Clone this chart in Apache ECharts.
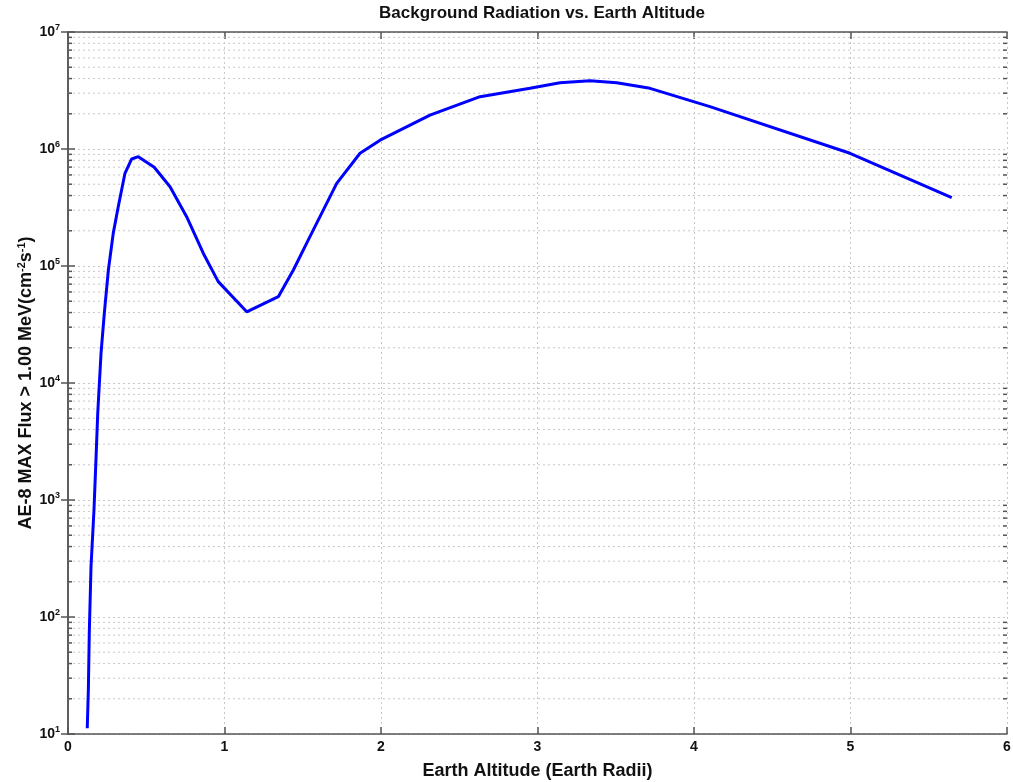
<!DOCTYPE html>
<html>
<head>
<meta charset="utf-8">
<script src="https://cdn.jsdelivr.net/npm/echarts@6/dist/echarts.min.js"></script>
<style>html,body{margin:0;padding:0;background:#fff;}#c{width:1013px;height:782px;}</style>
</head>
<body>
<div id="c"></div>
<script>
// Data
const altitude = [0.123,0.130,0.136,0.147,0.166,0.177,0.190,0.211,0.232,0.258,0.289,0.321,0.364,0.407,0.449,0.551,0.652,0.758,0.865,0.960,1.142,1.344,1.440,1.546,1.717,1.866,1.994,2.313,2.633,2.952,3.144,3.335,3.506,3.719,4.102,4.997,5.647];
const flux = [11.2,23.8,72.6,269,822,1930,5510,17900,39400,92500,190000,321000,620000,822000,860000,698000,476000,264000,128000,73500,40600,54700,92500,178000,509000,919000,1190000,1950000,2800000,3300000,3690000,3840000,3690000,3300000,2300000,919000,384000];
const xTicks = [0,1,2,3,4,5,6];
const yDecades = [1,2,3,4,5,6,7];

const minorVals = [];
for (let d = 1; d < 7; d++) for (let k = 2; k <= 9; k++) minorVals.push(k * Math.pow(10, d));

const lineData = altitude.map((x, i) => [x, flux[i]]);
const FONT = '"Liberation Sans", Arial, sans-serif';

const chart = echarts.init(document.getElementById('c'), null, {renderer: 'canvas'});
const yAxisBase = {
  type: 'log', logBase: 10,
  min: Math.pow(10, yDecades[0]), max: Math.pow(10, yDecades[yDecades.length - 1]),
  axisLine: {show: true, lineStyle: {color: '#555', width: 1.5}},
  axisTick: {show: true, inside: true, length: 7, lineStyle: {color: '#555', width: 1.5}},
  minorTick: {show: false},
  splitLine: {show: false}
};
chart.setOption({
  animation: false,
  backgroundColor: '#fff',
  title: {
    text: 'Background Radiation vs. Earth Altitude',
    left: 537, top: 0, textAlign: 'center',
    textStyle: {fontFamily: FONT, fontWeight: 'bold', fontSize: 17, color: '#111'}
  },
  grid: {left: 68, top: 32, right: 6, bottom: 48, outerBoundsMode: 'none', containLabel: false},
  xAxis: [{
    type: 'value', min: xTicks[0], max: xTicks[xTicks.length - 1], interval: 1,
    name: 'Earth Altitude (Earth Radii)', nameLocation: 'middle', nameGap: 28, nameMoveOverlap: false,
    nameTextStyle: {fontFamily: FONT, fontWeight: 'bold', fontSize: 18, color: '#111'},
    axisLine: {show: true, lineStyle: {color: '#555', width: 1.5}},
    axisTick: {show: true, inside: true, length: 7, lineStyle: {color: '#555', width: 1.5}},
    axisLabel: {fontFamily: FONT, fontWeight: 'bold', fontSize: 14, color: '#111', margin: 6},
    splitLine: {show: true, lineStyle: {color: '#c8c8c8', type: [2, 3], width: 1}}
  }, {
    type: 'value', position: 'top', min: xTicks[0], max: xTicks[xTicks.length - 1], interval: 1,
    axisLine: {show: true, lineStyle: {color: '#555', width: 1.5}},
    axisTick: {show: true, inside: true, length: 7, lineStyle: {color: '#555', width: 1.5}},
    axisLabel: {show: false}, splitLine: {show: false}
  }],
  yAxis: [Object.assign({}, yAxisBase, {
    name: '{t|AE-8 MAX Flux > 1.00 MeV(cm}{s|-2}{t|s}{s|-1}{t|)}',
    nameLocation: 'middle', nameGap: 31, nameRotate: 90, nameMoveOverlap: false,
    nameTextStyle: {
      rich: {
        t: {fontFamily: FONT, fontWeight: 'bold', fontSize: 18, color: '#111'},
        s: {fontFamily: FONT, fontWeight: 'bold', fontSize: 11, color: '#111', verticalAlign: 'bottom', padding: [0, 0, 10, 0]}
      }
    },
    axisLabel: {
      margin: 8,
      formatter: v => '{b|10}{e|' + Math.round(Math.log10(v)) + '}',
      rich: {
        b: {fontFamily: FONT, fontWeight: 'bold', fontSize: 14, color: '#111'},
        e: {fontFamily: FONT, fontWeight: 'bold', fontSize: 9, color: '#111', verticalAlign: 'bottom', padding: [0, 0, 8, 0]}
      }
    },
    splitLine: {show: true, lineStyle: {color: '#c8c8c8', type: [2, 3], width: 1}}
  }), Object.assign({}, yAxisBase, {position: 'right', axisLabel: {show: false}})],
  series: [{
    type: 'custom',
    silent: true,
    z: 1,
    xAxisIndex: 0, yAxisIndex: 0,
    data: minorVals.map(v => [0, v]),
    encode: {x: 0, y: 1},
    renderItem: function (params, api) {
      const v = api.value(1);
      const p0 = api.coord([xTicks[0], v]);
      const p1 = api.coord([xTicks[xTicks.length - 1], v]);
      return {
        type: 'group',
        children: [
          {type: 'line', shape: {x1: p0[0], y1: p0[1], x2: p1[0], y2: p1[1]},
           style: {stroke: '#c8c8c8', lineWidth: 1, lineDash: [2, 3]}},
          {type: 'line', shape: {x1: p0[0], y1: p0[1], x2: p0[0] + 4, y2: p0[1]},
           style: {stroke: '#555', lineWidth: 1.5}},
          {type: 'line', shape: {x1: p1[0] - 4, y1: p1[1], x2: p1[0], y2: p1[1]},
           style: {stroke: '#555', lineWidth: 1.5}}
        ]
      };
    }
  }, {
    type: 'line',
    xAxisIndex: 0, yAxisIndex: 0,
    data: lineData,
    showSymbol: false,
    smooth: false,
    z: 5,
    lineStyle: {color: '#0000ff', width: 3}
  }]
});
</script>
</body>
</html>
